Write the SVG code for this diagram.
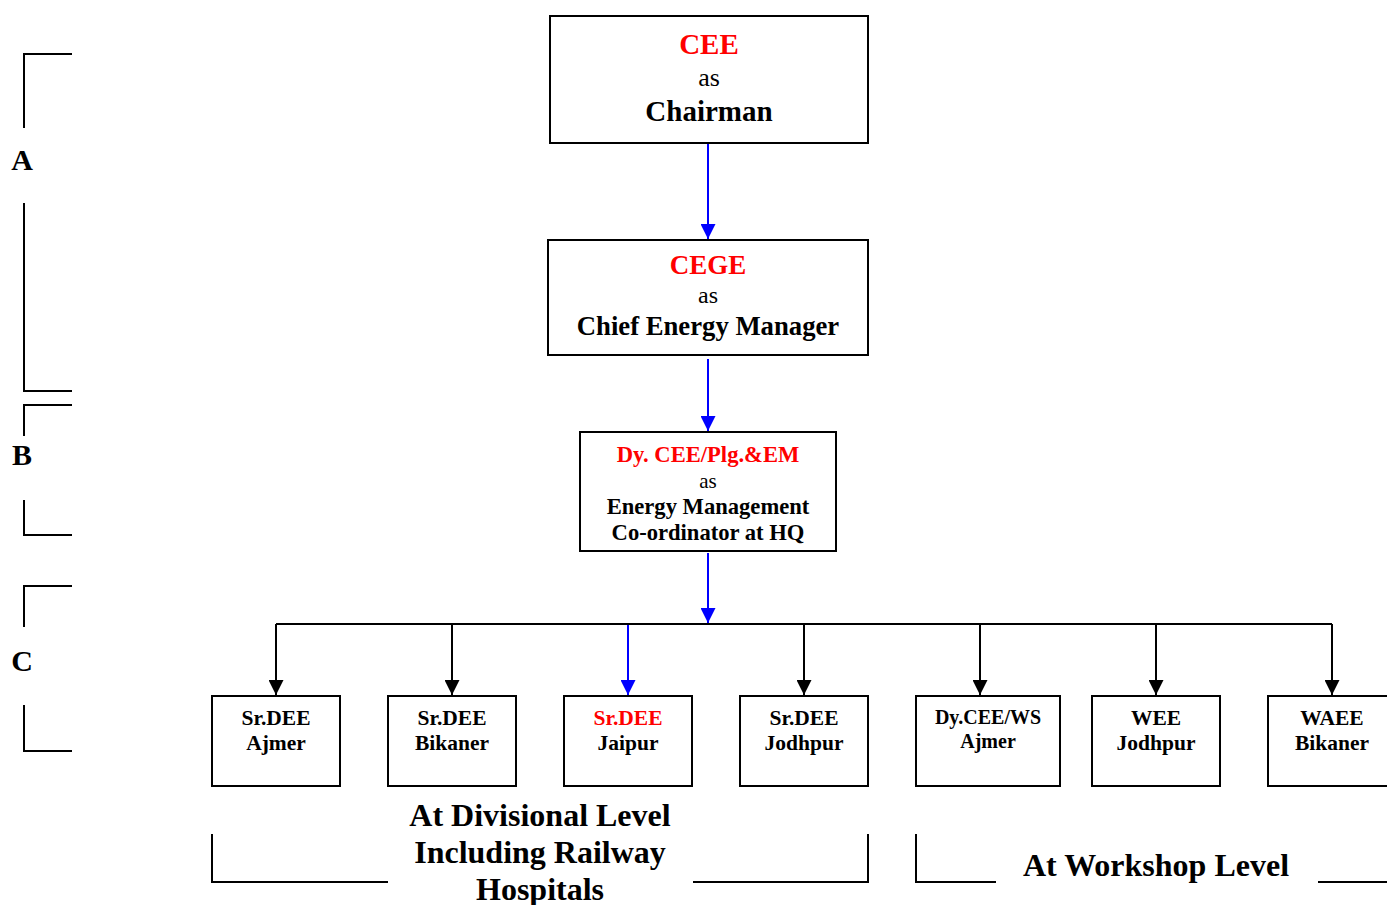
<svg xmlns="http://www.w3.org/2000/svg" width="1387" height="905" viewBox="0 0 1387 905">
<defs>
<marker id="ab" viewBox="0 0 10 10" refX="10" refY="5" markerWidth="15" markerHeight="15" markerUnits="userSpaceOnUse" orient="auto"><path d="M0,0 L10,5 L0,10 z" fill="#0000ff"/></marker>
<marker id="ak" viewBox="0 0 10 10" refX="10" refY="5" markerWidth="15" markerHeight="15" markerUnits="userSpaceOnUse" orient="auto"><path d="M0,0 L10,5 L0,10 z" fill="#000"/></marker>
</defs>
<style>
text{font-family:"Liberation Serif","Times New Roman",serif;text-anchor:middle;fill:#000}
.b{font-weight:bold}
.r{fill:#ff0000}
rect{fill:#fff;stroke:#000;stroke-width:2}
.ln{stroke:#000;stroke-width:2;fill:none}
.bl{stroke:#0000ff;stroke-width:2;fill:none}
.s{font-size:21.5px;font-weight:bold}
</style>
<rect x="0" y="0" width="1387" height="905" style="stroke:none;fill:#fff"/>
<g id="brackets">
<path class="ln" d="M72,54 H24 V128"/>
<path class="ln" d="M24,203 V391 H72"/>
<path class="ln" d="M72,405 H24 V436"/>
<path class="ln" d="M24,500 V535 H72"/>
<path class="ln" d="M72,586 H24 V627"/>
<path class="ln" d="M24,705 V751 H72"/>
<path class="ln" d="M212,834 V882 H388"/>
<path class="ln" d="M693,882 H868 V834"/>
<path class="ln" d="M916,834 V882 H996"/>
<path class="ln" d="M1318,882 H1387"/>
</g>
<g id="labels">
<text x="22" y="170" class="b" font-size="30">A</text>
<text x="22" y="465" class="b" font-size="30">B</text>
<text x="22" y="671" class="b" font-size="30">C</text>
<text x="540" y="826" class="b" font-size="32">At Divisional Level</text>
<text x="540" y="863" class="b" font-size="32">Including Railway</text>
<text x="540" y="900" class="b" font-size="32">Hospitals</text>
<text x="1156" y="876" class="b" font-size="32">At Workshop Level</text>
</g>
<g id="connectors">
<line class="bl" x1="708" y1="144" x2="708" y2="239" marker-end="url(#ab)"/>
<line class="bl" x1="708" y1="359" x2="708" y2="431" marker-end="url(#ab)"/>
<line class="bl" x1="708" y1="553" x2="708" y2="623" marker-end="url(#ab)"/>
<path class="ln" d="M276,624 H1332"/>
<line class="ln" x1="276" y1="624" x2="276" y2="695" marker-end="url(#ak)"/>
<line class="ln" x1="452" y1="624" x2="452" y2="695" marker-end="url(#ak)"/>
<line class="bl" x1="628" y1="625" x2="628" y2="695" marker-end="url(#ab)"/>
<line class="ln" x1="804" y1="624" x2="804" y2="695" marker-end="url(#ak)"/>
<line class="ln" x1="980" y1="624" x2="980" y2="695" marker-end="url(#ak)"/>
<line class="ln" x1="1156" y1="624" x2="1156" y2="695" marker-end="url(#ak)"/>
<line class="ln" x1="1332" y1="624" x2="1332" y2="695" marker-end="url(#ak)"/>
</g>
<g id="cee">
<rect x="550" y="16" width="318" height="127"/>
<text x="709" y="54" class="b r" font-size="29">CEE</text>
<text x="709" y="86" font-size="26">as</text>
<text x="709" y="121" class="b" font-size="29">Chairman</text>
</g>
<g id="cege">
<rect x="548" y="240" width="320" height="115"/>
<text x="708" y="274" class="b r" font-size="27">CEGE</text>
<text x="708" y="303" font-size="24">as</text>
<text x="708" y="335" class="b" font-size="26.7">Chief Energy Manager</text>
</g>
<g id="dycee">
<rect x="580" y="432" width="256" height="119"/>
<text x="708" y="462" class="b r" font-size="22.6">Dy. CEE/Plg.&amp;EM</text>
<text x="708" y="488" font-size="21">as</text>
<text x="708" y="514" class="b" font-size="22.6">Energy Management</text>
<text x="708" y="540" class="b" font-size="22.6">Co-ordinator at HQ</text>
</g>
<g id="n1"><rect x="212" y="696" width="128" height="90"/><text x="276" y="725" class="s">Sr.DEE</text><text x="276" y="750" class="s">Ajmer</text></g>
<g id="n2"><rect x="388" y="696" width="128" height="90"/><text x="452" y="725" class="s">Sr.DEE</text><text x="452" y="750" class="s">Bikaner</text></g>
<g id="n3"><rect x="564" y="696" width="128" height="90"/><text x="628" y="725" class="s r">Sr.DEE</text><text x="628" y="750" class="s">Jaipur</text></g>
<g id="n4"><rect x="740" y="696" width="128" height="90"/><text x="804" y="725" class="s">Sr.DEE</text><text x="804" y="750" class="s">Jodhpur</text></g>
<g id="n5"><rect x="916" y="696" width="144" height="90"/><text x="988" y="724" class="b" font-size="20">Dy.CEE/WS</text><text x="988" y="748" class="b" font-size="20">Ajmer</text></g>
<g id="n6"><rect x="1092" y="696" width="128" height="90"/><text x="1156" y="725" class="s">WEE</text><text x="1156" y="750" class="s">Jodhpur</text></g>
<g id="n7"><rect x="1268" y="696" width="128" height="90"/><text x="1332" y="725" class="s">WAEE</text><text x="1332" y="750" class="s">Bikaner</text></g>
</svg>
